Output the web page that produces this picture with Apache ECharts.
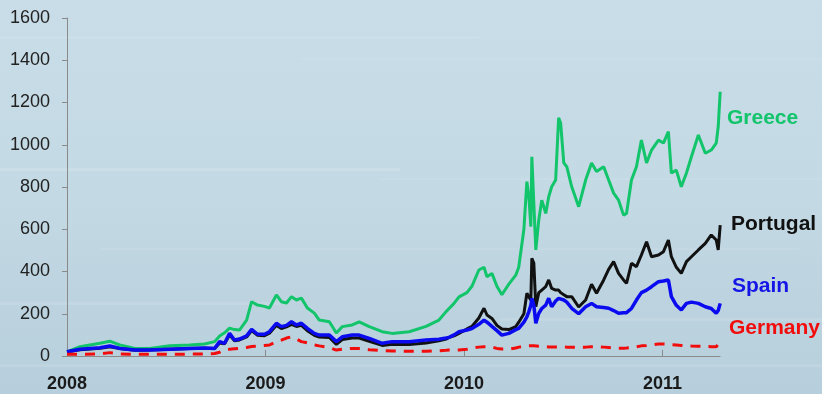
<!DOCTYPE html>
<html>
<head>
<meta charset="utf-8">
<script src="https://cdn.jsdelivr.net/npm/echarts@6/dist/echarts.min.js"></script>
<style>
  html, body { margin: 0; padding: 0; }
  #chart { width: 822px; height: 394px; }
</style>
</head>
<body>
<div id="chart"></div>
<script>
// x positions as decimal years
var years = [
  2008.000, 2008.065, 2008.166, 2008.216, 2008.266, 2008.342, 2008.417, 2008.518, 2008.618, 2008.693,
  2008.744, 2008.769, 2008.794, 2008.819, 2008.844, 2008.869, 2008.905, 2008.930, 2008.960, 2008.995,
  2009.020, 2009.055, 2009.080, 2009.106, 2009.131, 2009.156, 2009.181, 2009.211, 2009.246, 2009.271,
  2009.322, 2009.357, 2009.387, 2009.437, 2009.472, 2009.523, 2009.588, 2009.638, 2009.724, 2009.809,
  2009.874, 2009.910, 2009.925, 2009.950, 2009.975, 2010.015, 2010.040, 2010.075, 2010.101, 2010.116,
  2010.141, 2010.166, 2010.191, 2010.226, 2010.261, 2010.276, 2010.302, 2010.317, 2010.327, 2010.337,
  2010.342, 2010.352, 2010.362, 2010.377, 2010.392, 2010.412, 2010.427, 2010.442, 2010.462, 2010.477,
  2010.487, 2010.503, 2010.518, 2010.543, 2010.578, 2010.613, 2010.643, 2010.668, 2010.704, 2010.729,
  2010.754, 2010.779, 2010.804, 2010.819, 2010.844, 2010.869, 2010.894, 2010.920, 2010.945, 2010.980,
  2011.005, 2011.030, 2011.045, 2011.070, 2011.095, 2011.121, 2011.146, 2011.181, 2011.216, 2011.246,
  2011.271, 2011.281, 2011.291
];

var greece = [
  20, 44, 60, 70, 52, 36, 36, 49, 52, 57,
  68, 95, 110, 132, 125, 123, 170, 257, 241, 235,
  227, 289, 257, 251, 281, 265, 274, 227, 203, 170,
  162, 109, 139, 147, 162, 139, 115, 107, 115, 140,
  170, 210, 225, 249, 280, 300, 330, 407, 420, 375,
  391, 330, 290, 340, 383, 420, 600, 825, 754, 612,
  943, 937, 502, 644, 738, 675, 754, 801, 833, 1127,
  1103, 914, 896, 801, 707, 833, 914, 873, 896, 833,
  771, 738, 667, 675, 833, 896, 1022, 914, 975, 1022,
  1008, 1062, 866, 880, 801, 866, 943, 1046, 960, 975,
  1008, 1085, 1251
];

var portugal = [
  20, 30, 37, 44, 35, 27, 28, 32, 35, 37,
  36, 62, 58, 100, 72, 76, 90, 120, 98, 96,
  108, 145, 130, 138, 150, 140, 145, 120, 98, 90,
  88, 55, 78, 85, 85, 70, 50, 55, 55, 62,
  72, 80, 88, 95, 107, 128, 140, 180, 226, 194,
  178, 145, 128, 125, 139, 160, 200, 297, 280, 265,
  462, 440, 233, 300, 312, 328, 360, 320, 312, 312,
  300, 290, 281, 281, 232, 265, 340, 297, 360, 410,
  447, 391, 360, 344, 439, 423, 478, 541, 470, 478,
  494, 549, 470, 420, 391, 447, 470, 502, 533, 573,
  549, 502, 620
];

var spain = [
  20, 32, 39, 47, 36, 28, 28, 32, 36, 38,
  36, 68, 60, 107, 76, 80, 95, 126, 103, 103,
  115, 155, 139, 145, 162, 147, 155, 131, 107, 99,
  99, 68, 91, 99, 99, 83, 60, 68, 68, 76,
  79, 85, 88, 100, 115, 123, 130, 150, 170, 160,
  140, 120, 99, 107, 125, 131, 160, 185, 210, 240,
  273, 240, 155, 202, 225, 241, 273, 233, 260, 273,
  270, 265, 255, 226, 200, 233, 249, 233, 230, 226,
  215, 202, 205, 205, 225, 265, 300, 312, 328, 352,
  355, 360, 281, 240, 218, 249, 255, 249, 233, 225,
  202, 215, 249
];

var germany = [
  8, 8, 10, 16, 10, 8, 8, 8, 9, 9,
  12, 18, 30, 32, 34, 36, 40, 45, 47, 50,
  52, 68, 75, 85, 91, 80, 68, 62, 52, 48,
  40, 28, 32, 36, 35, 30, 26, 24, 22, 22,
  25, 27, 28, 28, 28, 32, 38, 42, 44, 44,
  42, 36, 33, 33, 38, 42, 46, 48, 48, 48,
  48, 48, 47, 46, 45, 44, 43, 43, 43, 43,
  43, 43, 42, 42, 42, 42, 44, 44, 42, 40,
  38, 37, 37, 38, 40, 44, 48, 50, 53, 57,
  57, 56, 54, 52, 50, 48, 47, 46, 45, 44,
  44, 55, 62
];

var yearTicks = [2008, 2009, 2010, 2011];

function pairs(vals) {
  return vals.map(function (v, i) { return [years[i], v]; });
}

var chart = echarts.init(document.getElementById('chart'));

var labelFont = 'bold 21px "Liberation Sans", Arial, sans-serif';
function countryLabel(name, color, x, y) {
  return {
    type: 'text', x: x, y: y, z: 100,
    style: { text: name, fill: color, font: labelFont, verticalAlign: 'middle' }
  };
}
// faint light streaks in the backdrop
function streak(x, y, w, h, op) {
  return {
    type: 'rect', z: -10, silent: true,
    shape: { x: x, y: y, width: w, height: h, r: h / 2 },
    style: { fill: 'rgba(255,255,255,' + op + ')', shadowBlur: 10, shadowColor: 'rgba(255,255,255,' + op + ')' }
  };
}

var option = {
  animation: false,
  backgroundColor: {
    type: 'linear', x: 0, y: 0, x2: 0, y2: 1,
    colorStops: [
      { offset: 0, color: '#c8dde8' },
      { offset: 0.5, color: '#c3d9e4' },
      { offset: 1, color: '#b7cfdc' }
    ]
  },
  grid: { left: 67, right: 102, top: 18, bottom: 38 },
  xAxis: {
    type: 'value',
    min: 2008,
    max: 2011.29,
    interval: 1,
    splitLine: { show: false },
    axisLine: { lineStyle: { color: '#8a8a8a', width: 1 } },
    axisTick: { show: true, inside: true, length: 6, customValues: yearTicks, lineStyle: { color: '#8a8a8a' } },
    axisLabel: {
      customValues: yearTicks,
      color: '#1a1a1a', fontSize: 18, fontWeight: 'bold',
      fontFamily: '"Liberation Sans", Arial, sans-serif',
      margin: 19,
      formatter: function (v) { return String(Math.round(v)); }
    }
  },
  yAxis: {
    type: 'value',
    min: 0, max: 1600, interval: 200,
    splitLine: { show: false },
    axisLine: { show: true, lineStyle: { color: '#8a8a8a', width: 1 } },
    axisTick: { show: true, length: 5, lineStyle: { color: '#8a8a8a' } },
    axisLabel: {
      color: '#222', fontSize: 18, margin: 17,
      fontFamily: '"Liberation Sans", Arial, sans-serif',
      formatter: function (v) { return String(v); }
    }
  },
  graphic: [
    streak(-20, 36, 500, 3, 0.10),
    streak(300, 58, 540, 2, 0.08),
    streak(-20, 168, 420, 3, 0.14),
    streak(380, 178, 460, 2, 0.08),
    streak(100, 248, 700, 2, 0.07),
    streak(-20, 302, 300, 3, 0.10),
    streak(500, 318, 340, 3, 0.09),
    streak(-20, 364, 860, 3, 0.10),
    countryLabel('Greece', '#12c46a', 727, 118),
    countryLabel('Portugal', '#111111', 731, 224),
    countryLabel('Spain', '#1515e6', 732, 286),
    countryLabel('Germany', '#f20d0d', 729, 328)
  ],
  series: [
    {
      name: 'Greece', type: 'line', showSymbol: false, data: pairs(greece),
      lineStyle: { color: '#12c46a', width: 3 }
    },
    {
      name: 'Portugal', type: 'line', showSymbol: false, data: pairs(portugal),
      lineStyle: { color: '#111111', width: 3 }
    },
    {
      name: 'Spain', type: 'line', showSymbol: false, data: pairs(spain),
      lineStyle: { color: '#0b0bf0', width: 3.5 }
    },
    {
      name: 'Germany', type: 'line', showSymbol: false, data: pairs(germany),
      lineStyle: { color: '#f20d0d', width: 3, type: [10, 8] }
    }
  ]
};

chart.setOption(option);
</script>
</body>
</html>
